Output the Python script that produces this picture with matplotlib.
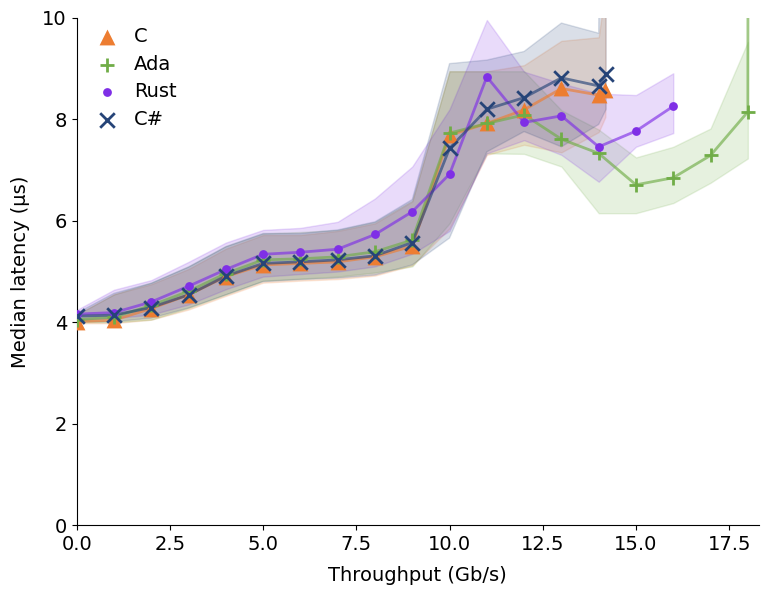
import numpy as np
import matplotlib.pyplot as plt

# throughput (Gb/s) per language
c_x = [0, 1, 2, 3, 4, 5, 6, 7, 8, 9, 10, 11, 12, 13, 14, 14.18]
c_med = [4.01, 4.04, 4.27, 4.54, 4.90, 5.13, 5.16, 5.19, 5.29, 5.50, 7.69, 7.92, 8.19, 8.61, 8.48, 8.58]
c_lo = [3.98, 3.98, 4.05, 4.25, 4.52, 4.78, 4.82, 4.85, 4.92, 5.12, 5.85, 7.30, 7.50, 7.35, 7.75, 8.05]
c_hi = [4.15, 4.55, 4.75, 5.05, 5.45, 5.72, 5.72, 5.80, 5.95, 6.38, 8.95, 8.95, 9.07, 9.55, 9.62, 10.6]

ada_x = [0, 1, 2, 3, 4, 5, 6, 7, 8, 9, 10, 11, 12, 13, 14, 15, 16, 17, 18, 18.02]
ada_med = [4.05, 4.10, 4.33, 4.61, 4.96, 5.23, 5.25, 5.29, 5.39, 5.62, 7.73, 7.92, 8.09, 7.61, 7.33, 6.71, 6.85, 7.29, 8.15, 25.0]
ada_lo = [4.00, 4.00, 4.05, 4.28, 4.55, 4.82, 4.86, 4.90, 4.98, 5.10, 5.95, 7.33, 7.32, 7.07, 6.15, 6.15, 6.35, 6.75, 7.23, np.nan]
ada_hi = [4.15, 4.55, 4.78, 5.10, 5.50, 5.75, 5.78, 5.82, 5.98, 6.40, 8.95, 8.95, 8.95, 8.18, 7.80, 7.25, 7.46, 7.82, 9.53, np.nan]

rust_x = [0, 1, 2, 3, 4, 5, 6, 7, 8, 9, 10, 11, 12, 13, 14, 15, 16]
rust_med = [4.16, 4.19, 4.40, 4.71, 5.04, 5.34, 5.38, 5.44, 5.73, 6.18, 6.92, 8.84, 7.94, 8.07, 7.46, 7.77, 8.26]
rust_lo = [4.05, 4.08, 4.15, 4.35, 4.65, 4.90, 4.95, 5.00, 5.10, 5.35, 5.80, 7.33, 7.59, 7.30, 6.77, 7.46, 7.73]
rust_hi = [4.24, 4.64, 4.83, 5.19, 5.57, 5.82, 5.86, 5.98, 6.44, 7.07, 8.20, 9.96, 8.94, 8.71, 8.51, 8.48, 8.91]

cs_x = [0, 1, 2, 3, 4, 5, 6, 7, 8, 9, 10, 11, 12, 13, 14, 14.2]
cs_med = [4.12, 4.14, 4.29, 4.54, 4.91, 5.16, 5.19, 5.23, 5.31, 5.57, 7.43, 8.20, 8.43, 8.82, 8.66, 8.90]
cs_lo = [4.01, 4.01, 4.08, 4.28, 4.54, 4.80, 4.84, 4.87, 4.93, 5.13, 5.66, 7.36, 7.76, 7.46, 7.90, 8.20]
cs_hi = [4.18, 4.57, 4.77, 5.09, 5.49, 5.75, 5.75, 5.82, 5.98, 6.42, 9.10, 9.17, 9.34, 9.90, 9.70, 30.0]

series = [
    ("C", c_x, c_med, c_lo, c_hi, "#ED7D31", "^", 130, 0),
    ("Ada", ada_x, ada_med, ada_lo, ada_hi, "#70AD47", "+", 110, 2),
    ("Rust", rust_x, rust_med, rust_lo, rust_hi, "#7F2FE6", "o", 40, 0),
    ("C#", cs_x, cs_med, cs_lo, cs_hi, "#264478", "x", 110, 2),
]

plt.rcParams["font.size"] = 14

fig, ax = plt.subplots(figsize=(7.63, 5.96), dpi=100)
fig.subplots_adjust(left=0.1005, right=0.9948, bottom=0.1191, top=0.9698)

for name, x, med, lo, hi, color, marker, size, lw in series:
    ax.fill_between(x, lo, hi, color=color, alpha=0.17, linewidth=1)
    ax.plot(x, med, color=color, linewidth=2, alpha=0.65)
    ax.scatter(x, med, color=color, marker=marker, s=size, linewidths=lw,
               label=name, zorder=3)

ax.set_xlim(0, 18.3)
ax.set_ylim(0, 10)
ax.set_xlabel("Throughput (Gb/s)", labelpad=9)
ax.set_ylabel("Median latency (µs)", labelpad=9)
ax.spines["top"].set_visible(False)
ax.spines["right"].set_visible(False)
ax.legend(loc="upper left", bbox_to_anchor=(-0.01, 1.017), frameon=False,
          handletextpad=0.4, labelspacing=0.45)

plt.savefig("out.png", dpi=100)
plt.close()
